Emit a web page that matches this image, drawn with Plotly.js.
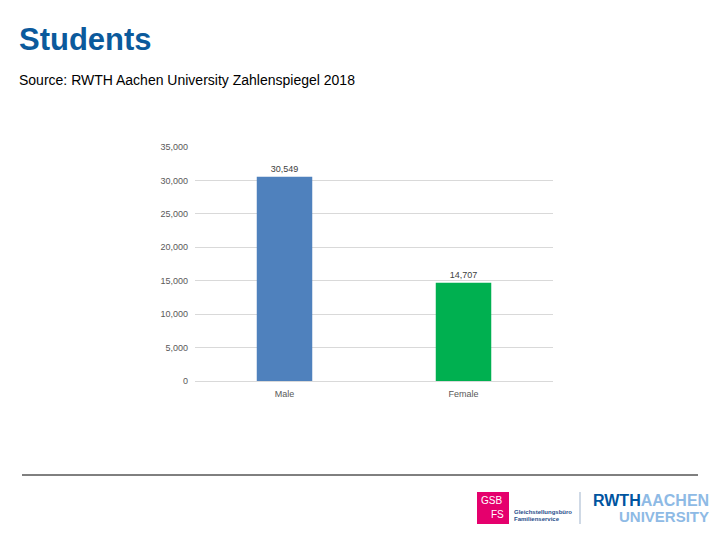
<!DOCTYPE html>
<html>
<head>
<meta charset="utf-8">
<script src="https://cdn.plot.ly/plotly-3.0.1.min.js"></script>
<style>
  html, body { margin: 0; padding: 0; background: #fff; }
  #chart { width: 720px; height: 540px; }
</style>
</head>
<body>
<div id="chart"></div>
<script>
const categories = ['Male', 'Female'];
const students = [30549, 14707];
const barColors = ['#4f81bd', '#00b050'];

// plot area in pixels: x 195..553, y 147..381
const L = 195, R = 553, T = 147, B = 381;
function px(x) { return (x - L) / (R - L); }
function py(y) { return (B - y) / (B - T); }

const trace = {
  x: categories,
  y: students,
  type: 'bar',
  width: 0.31,
  marker: { color: barColors },
  text: students.map(v => v.toLocaleString('en-US')),
  textposition: 'outside',
  textfont: { family: 'Liberation Sans, Arial, sans-serif', size: 9, color: '#404040' },
  cliponaxis: false,
  hoverinfo: 'none'
};

const tickFont = { family: 'Liberation Sans, Arial, sans-serif', size: 9, color: '#595959' };
const logoFont = 'Liberation Sans, Arial, sans-serif';

const layout = {
  width: 720,
  height: 540,
  margin: { l: L, r: 720 - R, t: T, b: 540 - B },
  paper_bgcolor: '#ffffff',
  plot_bgcolor: '#ffffff',
  showlegend: false,
  title: {
    text: '<b>Students</b>',
    font: { family: 'Liberation Sans, Arial, sans-serif', size: 31, color: '#0b5a9c' },
    xref: 'container', yref: 'container',
    x: 19 / 720, xanchor: 'left',
    y: 1 - 39 / 540, yanchor: 'middle'
  },
  xaxis: {
    tickfont: tickFont,
    showline: false,
    ticks: '',
    ticklabelstandoff: 6,
    fixedrange: true
  },
  yaxis: {
    range: [0, 35000],
    dtick: 5000,
    tickformat: ',d',
    tickfont: tickFont,
    gridcolor: '#d9d9d9',
    gridwidth: 1,
    zeroline: true,
    zerolinecolor: '#d9d9d9',
    showline: false,
    ticks: '',
    ticklabelstandoff: 6,
    fixedrange: true
  },
  shapes: [
    // footer rule
    { type: 'line', xref: 'paper', yref: 'paper', x0: px(22), x1: px(698), y0: py(475), y1: py(475),
      line: { color: '#000000', width: 1 } },
    // GSB FS box
    { type: 'rect', xref: 'paper', yref: 'paper', x0: px(477), x1: px(509), y0: py(524), y1: py(492),
      fillcolor: '#e5006d', line: { width: 0 } },
    // divider between logos
    { type: 'line', xref: 'paper', yref: 'paper', x0: px(580), x1: px(580), y0: py(524), y1: py(492),
      line: { color: '#9fb3cc', width: 1 } }
  ],
  annotations: [
    { text: 'Source: RWTH Aachen University Zahlenspiegel 2018', xref: 'paper', yref: 'paper',
      x: px(17), y: py(80), xanchor: 'left', yanchor: 'middle', showarrow: false,
      font: { family: 'Liberation Sans, Arial, sans-serif', size: 14, color: '#000000' } },
    { text: 'GSB', xref: 'paper', yref: 'paper', x: px(479), y: py(500), xanchor: 'left', yanchor: 'middle',
      showarrow: false, font: { family: logoFont, size: 10, color: '#ffffff' } },
    { text: 'FS', xref: 'paper', yref: 'paper', x: px(489), y: py(514), xanchor: 'left', yanchor: 'middle',
      showarrow: false, font: { family: logoFont, size: 10, color: '#ffffff' } },
    { text: '<b>Gleichstellungsbüro</b>', xref: 'paper', yref: 'paper', x: px(512), y: py(512), xanchor: 'left',
      yanchor: 'middle', showarrow: false, font: { family: logoFont, size: 6, color: '#1f4e8c' } },
    { text: '<b>Familienservice</b>', xref: 'paper', yref: 'paper', x: px(512), y: py(519), xanchor: 'left',
      yanchor: 'middle', showarrow: false, font: { family: logoFont, size: 6, color: '#1f4e8c' } },
    { text: '<b><span style="color:#00549f">RWTH</span>AACHEN</b>', xref: 'paper', yref: 'paper',
      x: px(711), y: py(500), xanchor: 'right', yanchor: 'middle', showarrow: false,
      font: { family: logoFont, size: 16, color: '#8ebae5' } },
    { text: '<b>UNIVERSITY</b>', xref: 'paper', yref: 'paper',
      x: px(711), y: py(516), xanchor: 'right', yanchor: 'middle', showarrow: false,
      font: { family: logoFont, size: 15, color: '#8ebae5' } }
  ]
};

Plotly.newPlot('chart', [trace], layout, { displayModeBar: false, staticPlot: true });
</script>
</body>
</html>
